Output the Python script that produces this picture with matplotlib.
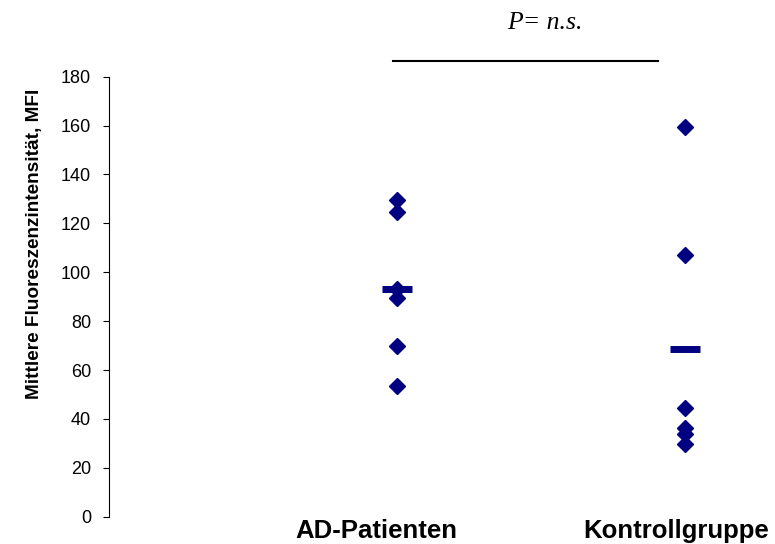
import matplotlib
matplotlib.use("Agg")
import matplotlib.pyplot as plt
import matplotlib.transforms as mtrans
import numpy as np

categories = ["AD-Patienten", "Kontrollgruppe"]
ad_values = [129.5, 124.7, 93.0, 89.5, 70.0, 53.3]
kontroll_values = [159.4, 107.2, 44.4, 36.2, 34.0, 29.6]
means = [93.2, 68.6]
yticks = [0, 20, 40, 60, 80, 100, 120, 140, 160, 180]
ylabel = "Mittlere Fluoreszenzintensität, MFI"
p_text = "P= n.s."

navy = "#000080"
W, H = 775, 544
fig = plt.figure(figsize=(W / 100, H / 100), dpi=100)
ax = fig.add_axes([109 / W, 1 - 516.7 / H, (W - 109) / W, (516.7 - 76.7) / H])

series = [ad_values, kontroll_values]
for i, vals in enumerate(series):
    xs = np.full(len(vals), i + 1.0)
    ax.plot(xs, vals, linestyle="none", marker="D", markersize=8,
            color=navy, markeredgecolor=navy, clip_on=False, zorder=3)
    ax.hlines(means[i], i + 1 - 0.052, i + 1 + 0.052, color=navy, lw=5, zorder=4)

ax.set_xlim(0, (W - 109) / 288)
ax.set_ylim(0, 180)
ax.set_yticks(yticks)
ax.set_yticklabels([str(t) for t in yticks], fontsize=13, family="Liberation Sans")
ax.tick_params(axis="y", direction="out", length=4.3, width=0.8, pad=8.5)
ax.set_xticks([])
for s in ["top", "right", "bottom"]:
    ax.spines[s].set_visible(False)
ax.spines["left"].set_linewidth(0.8)

blend = mtrans.blended_transform_factory(ax.transData, fig.transFigure)

# category labels
offsets = [-0.071, -0.03]
for i, c in enumerate(categories):
    ax.text(i + 1 + offsets[i], 1 - 538 / H, c, transform=blend,
            ha="center", va="baseline", fontsize=18.5, fontweight="bold", family="Liberation Sans")

# significance bar
ax.plot([0.986, 1.906], [186.4, 186.4], color="black", lw=1.5, clip_on=False)
ax.text(1.512, 1 - 29 / H, p_text, transform=blend,
        ha="center", va="baseline", fontsize=18.5, style="italic", family="Liberation Serif")

fig.text(35 / W, 1 - 243.5 / H, ylabel, rotation=90, ha="center", va="center",
         fontsize=13.7, fontweight="bold", family="Liberation Sans")

fig.savefig("out.png", dpi=100)
